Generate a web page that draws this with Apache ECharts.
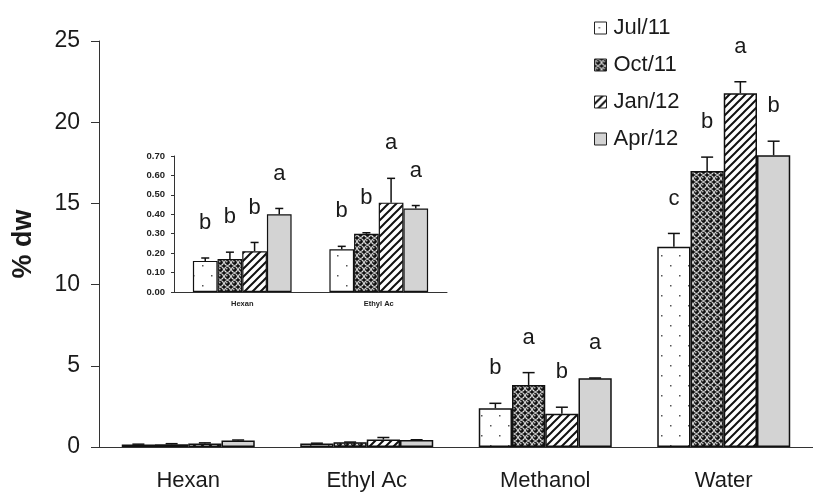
<!DOCTYPE html>
<html><head><meta charset="utf-8">
<script src="https://cdn.jsdelivr.net/npm/echarts@6/dist/echarts.min.js"></script>
<style>html,body{margin:0;padding:0;background:#fff}#c{width:813px;height:492px}</style>
</head><body><div id="c"></div>
<script>
const categories = ['Hexan', 'Ethyl Ac', 'Methanol', 'Water'];
const periods = ['Jul/11', 'Oct/11', 'Jan/12', 'Apr/12'];
const yTicks = [0, 5, 10, 15, 20, 25];
const insetTicks = [0, 0.1, 0.2, 0.3, 0.4, 0.5, 0.6, 0.7];

const jul11 = [0.16, 0.22, 2.39, 12.33];
const oct11 = [0.17, 0.30, 3.82, 16.99];
const jan12 = [0.21, 0.46, 2.04, 21.79];
const apr12 = [0.40, 0.43, 4.23, 17.97];

const jul11Err = [0.015, 0.015, 0.30, 0.82];
const oct11Err = [0.035, 0.005, 0.76, 0.86];
const jan12Err = [0.045, 0.125, 0.41, 0.70];
const apr12Err = [0.03, 0.015, 0.02, 0.86];

const jul11Letters = ['b', 'b', 'b', 'c'];
const oct11Letters = ['b', 'b', 'a', 'b'];
const jan12Letters = ['b', 'a', 'b', 'a'];
const apr12Letters = ['a', 'a', 'a', 'b'];

const values = [jul11, oct11, jan12, apr12];
const errors = [jul11Err, oct11Err, jan12Err, apr12Err];
const letters = [jul11Letters, oct11Letters, jan12Letters, apr12Letters];

function tile(w, h, draw) {
  const c = document.createElement('canvas');
  c.width = w; c.height = h;
  draw(c.getContext('2d'));
  return c;
}
const dotTile = tile(18, 20, ctx => {
  ctx.fillStyle = '#fff'; ctx.fillRect(0, 0, 18, 20);
  ctx.fillStyle = '#555';
  ctx.fillRect(4, 5, 1.5, 1.5); ctx.fillRect(13, 15, 1.5, 1.5);
});
const ballTile = tile(7, 7, ctx => {
  ctx.fillStyle = '#111'; ctx.fillRect(0, 0, 7, 7);
  ctx.fillStyle = '#fff'; ctx.beginPath(); ctx.arc(3.5, 3.5, 3.3, 0, Math.PI * 2); ctx.fill();
  ctx.fillStyle = '#111'; ctx.beginPath(); ctx.arc(3.5, 3.5, 2.4, 0, Math.PI * 2); ctx.fill();
  ctx.fillStyle = '#ddd'; ctx.beginPath(); ctx.arc(2.8, 2.8, 0.8, 0, Math.PI * 2); ctx.fill();
});
const stripeTile = tile(8, 8, ctx => {
  ctx.fillStyle = '#fff'; ctx.fillRect(0, 0, 8, 8);
  ctx.strokeStyle = '#111'; ctx.lineWidth = 2;
  ctx.beginPath();
  ctx.moveTo(-1, 9); ctx.lineTo(9, -1);
  ctx.moveTo(-5, 5); ctx.lineTo(5, -5);
  ctx.moveTo(3, 13); ctx.lineTo(13, 3);
  ctx.stroke();
});
const fills = [
  { image: dotTile, repeat: 'repeat' },
  { image: ballTile, repeat: 'repeat' },
  { image: stripeTile, repeat: 'repeat' },
  '#d3d3d3'
];

const GAP = 0.255, IGAP = 0.277;
const font = '"Liberation Sans", Arial, sans-serif';

function errSeries(k, gridIdx, catIdxs, gap, cap, showLetterFrom, showLetterTo) {
  return {
    type: 'custom',
    xAxisIndex: gridIdx, yAxisIndex: gridIdx,
    clip: false, silent: true, z: 5,
    data: catIdxs.map(ci => [ci, values[k][ci], errors[k][ci]]),
    renderItem: function (params, api) {
      const ci = api.value(0), v = api.value(1), e = api.value(2);
      const band = api.size([1, 0])[0];
      const used = band * (1 - gap);
      const bw = used / 4;
      const c = api.coord([ci, v]);
      const top = api.coord([ci, v + e]);
      const x = c[0] - used / 2 + bw * (k + 0.5);
      const ls = { stroke: '#111', lineWidth: 1.5 };
      const children = [
        { type: 'line', shape: { x1: x, y1: c[1], x2: x, y2: top[1] }, style: ls },
        { type: 'line', shape: { x1: x - cap / 2, y1: top[1], x2: x + cap / 2, y2: top[1] }, style: ls }
      ];
      const oi = catIdxs[params.dataIndex];
      if (oi >= showLetterFrom && oi <= showLetterTo) {
        children.push({
          type: 'text',
          style: { x: x, y: top[1] - 35, text: letters[k][oi], fill: '#1a1a1a', font: '22px ' + font, textAlign: 'center', textVerticalAlign: 'middle' }
        });
      }
      return { type: 'group', children: children };
    }
  };
}

const series = [];
for (let k = 0; k < 4; k++) {
  series.push({
    name: periods[k], type: 'bar', xAxisIndex: 0, yAxisIndex: 0,
    data: values[k], barGap: '0%', barCategoryGap: (GAP * 100) + '%',
    itemStyle: { color: fills[k], borderColor: '#111', borderWidth: 1.5 }
  });
}
for (let k = 0; k < 4; k++) {
  series.push({
    name: periods[k], type: 'bar', xAxisIndex: 1, yAxisIndex: 1,
    data: values[k].slice(0, 2), barGap: '0%', barCategoryGap: (IGAP * 100) + '%',
    itemStyle: { color: fills[k], borderColor: '#111', borderWidth: 1.2 }
  });
}
for (let k = 0; k < 4; k++) series.push(errSeries(k, 0, [0, 1, 2, 3], GAP, 12, 2, 3));
for (let k = 0; k < 4; k++) series.push(errSeries(k, 1, [0, 1], IGAP, 8, 0, 1));

const chart = echarts.init(document.getElementById('c'), null, { renderer: 'canvas' });
chart.setOption({
  animation: false,
  backgroundColor: '#fff',
  textStyle: { fontFamily: font },
  legend: {
    data: periods, orient: 'vertical', left: 589, top: 12,
    itemWidth: 12, itemHeight: 12, itemGap: 15, icon: 'rect',
    itemStyle: { borderColor: '#222', borderWidth: 1 },
    textStyle: { fontSize: 22, color: '#1a1a1a', lineHeight: 22, padding: [0, 0, 0, 2] }
  },
  grid: [
    { left: 99, top: 41, width: 721, height: 408 },
    { left: 174, top: 156, width: 273, height: 136, z: 10 }
  ],
  xAxis: [
    {
      type: 'category', gridIndex: 0, data: categories,
      axisLine: { lineStyle: { color: '#333', width: 1 } },
      axisTick: { length: 7, lineStyle: { color: '#333' } },
      axisLabel: { fontSize: 22, color: '#1a1a1a', margin: 23 }
    },
    {
      type: 'category', gridIndex: 1, data: categories.slice(0, 2),
      axisLine: { lineStyle: { color: '#333', width: 1 } },
      axisTick: { length: 4, lineStyle: { color: '#333' } },
      axisLabel: { fontSize: 7.5, fontWeight: 'bold', color: '#222', margin: 8 }
    }
  ],
  yAxis: [
    {
      type: 'value', gridIndex: 0, min: yTicks[0], max: yTicks[yTicks.length - 1], interval: 5,
      name: '% dw', nameLocation: 'middle', nameGap: 62, nameRotate: 90,
      nameTextStyle: { fontSize: 27, fontWeight: 'bold', color: '#1a1a1a' },
      axisLine: { show: true, lineStyle: { color: '#333', width: 1 } },
      axisTick: { show: true, length: 8, lineStyle: { color: '#333' } },
      axisLabel: { fontSize: 23, color: '#1a1a1a', margin: 19 },
      splitLine: { show: false }
    },
    {
      type: 'value', gridIndex: 1, min: insetTicks[0], max: insetTicks[insetTicks.length - 1], interval: 0.1,
      axisLine: { show: true, lineStyle: { color: '#333', width: 1 } },
      axisTick: { show: true, length: 3, lineStyle: { color: '#333' } },
      axisLabel: { fontSize: 9.5, fontWeight: 'bold', color: '#222', margin: 9, formatter: v => v.toFixed(2) },
      splitLine: { show: false }
    }
  ],
  series: series
});
</script></body></html>
